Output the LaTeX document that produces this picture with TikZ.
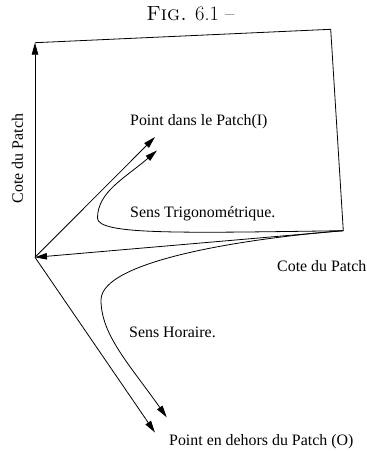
\documentclass[tikz,border=0pt]{standalone}
\usepackage{fontspec}
\newfontfamily\labelfont{Liberation Serif}
\usetikzlibrary{arrows.meta}
\begin{document}
\begin{tikzpicture}[x=1pt,y=-1pt,
  edge/.style={line width=0.8pt},
  arr/.style={edge,-{Triangle[length=12pt,width=6.5pt]}},
  lbl/.style={font=\labelfont\fontsize{15.9}{19}\selectfont, inner sep=0pt, anchor=base west}]
\useasboundingbox (0,0) rectangle (367,451);

% corners of the patch and end points of the test vectors
\coordinate (A) at (35,257.3);
\coordinate (B) at (35,42.7);
\coordinate (C) at (330.7,29.3);
\coordinate (D) at (343.3,230.7);
\coordinate (I1) at (155,137);
\coordinate (I2) at (157,150.5);
\coordinate (O1) at (155,432.5);
\coordinate (O2) at (166.7,417.3);

% title
\node[font=\fontsize{20.5}{24}\selectfont, inner sep=0pt, anchor=base] (title) at (190.5,20) {\textsc{Fig.} 6.1 –};

% patch edges
\draw[arr] (A) -- (B);
\draw[edge] (B) -- (C) -- (D);
\draw[arr] (D) -- (A);

% vectors towards the tested points
\draw[arr] (A) -- (I1);
\draw[arr] (A) -- (O1);

% direction of rotation
\draw[arr] (D) .. controls (180,233) and (97.5,235) .. (97.5,218)
               .. controls (97.5,192) and (125,178) .. (I2);
\draw[arr] (D) .. controls (250,238) and (101,260) .. (101,300)
               .. controls (101,335) and (130,365) .. (O2);

% labels
\node[lbl] (pin) at (130,125) {Point dans le Patch(I)};
\node[lbl] (trig) at (130,217) {Sens Trigonométrique.};
\node[lbl] (hor) at (129,337) {Sens Horaire.};
\node[lbl] (cote) at (277,271) {Cote du Patch};
\node[lbl] (pout) at (169,445) {Point en dehors du Patch (O)};
\node[font=\labelfont\fontsize{15.9}{19}\selectfont, inner sep=0pt, anchor=base, rotate=90] (cotev) at (23,158.5) {Cote du Patch};
\end{tikzpicture}
\end{document}
